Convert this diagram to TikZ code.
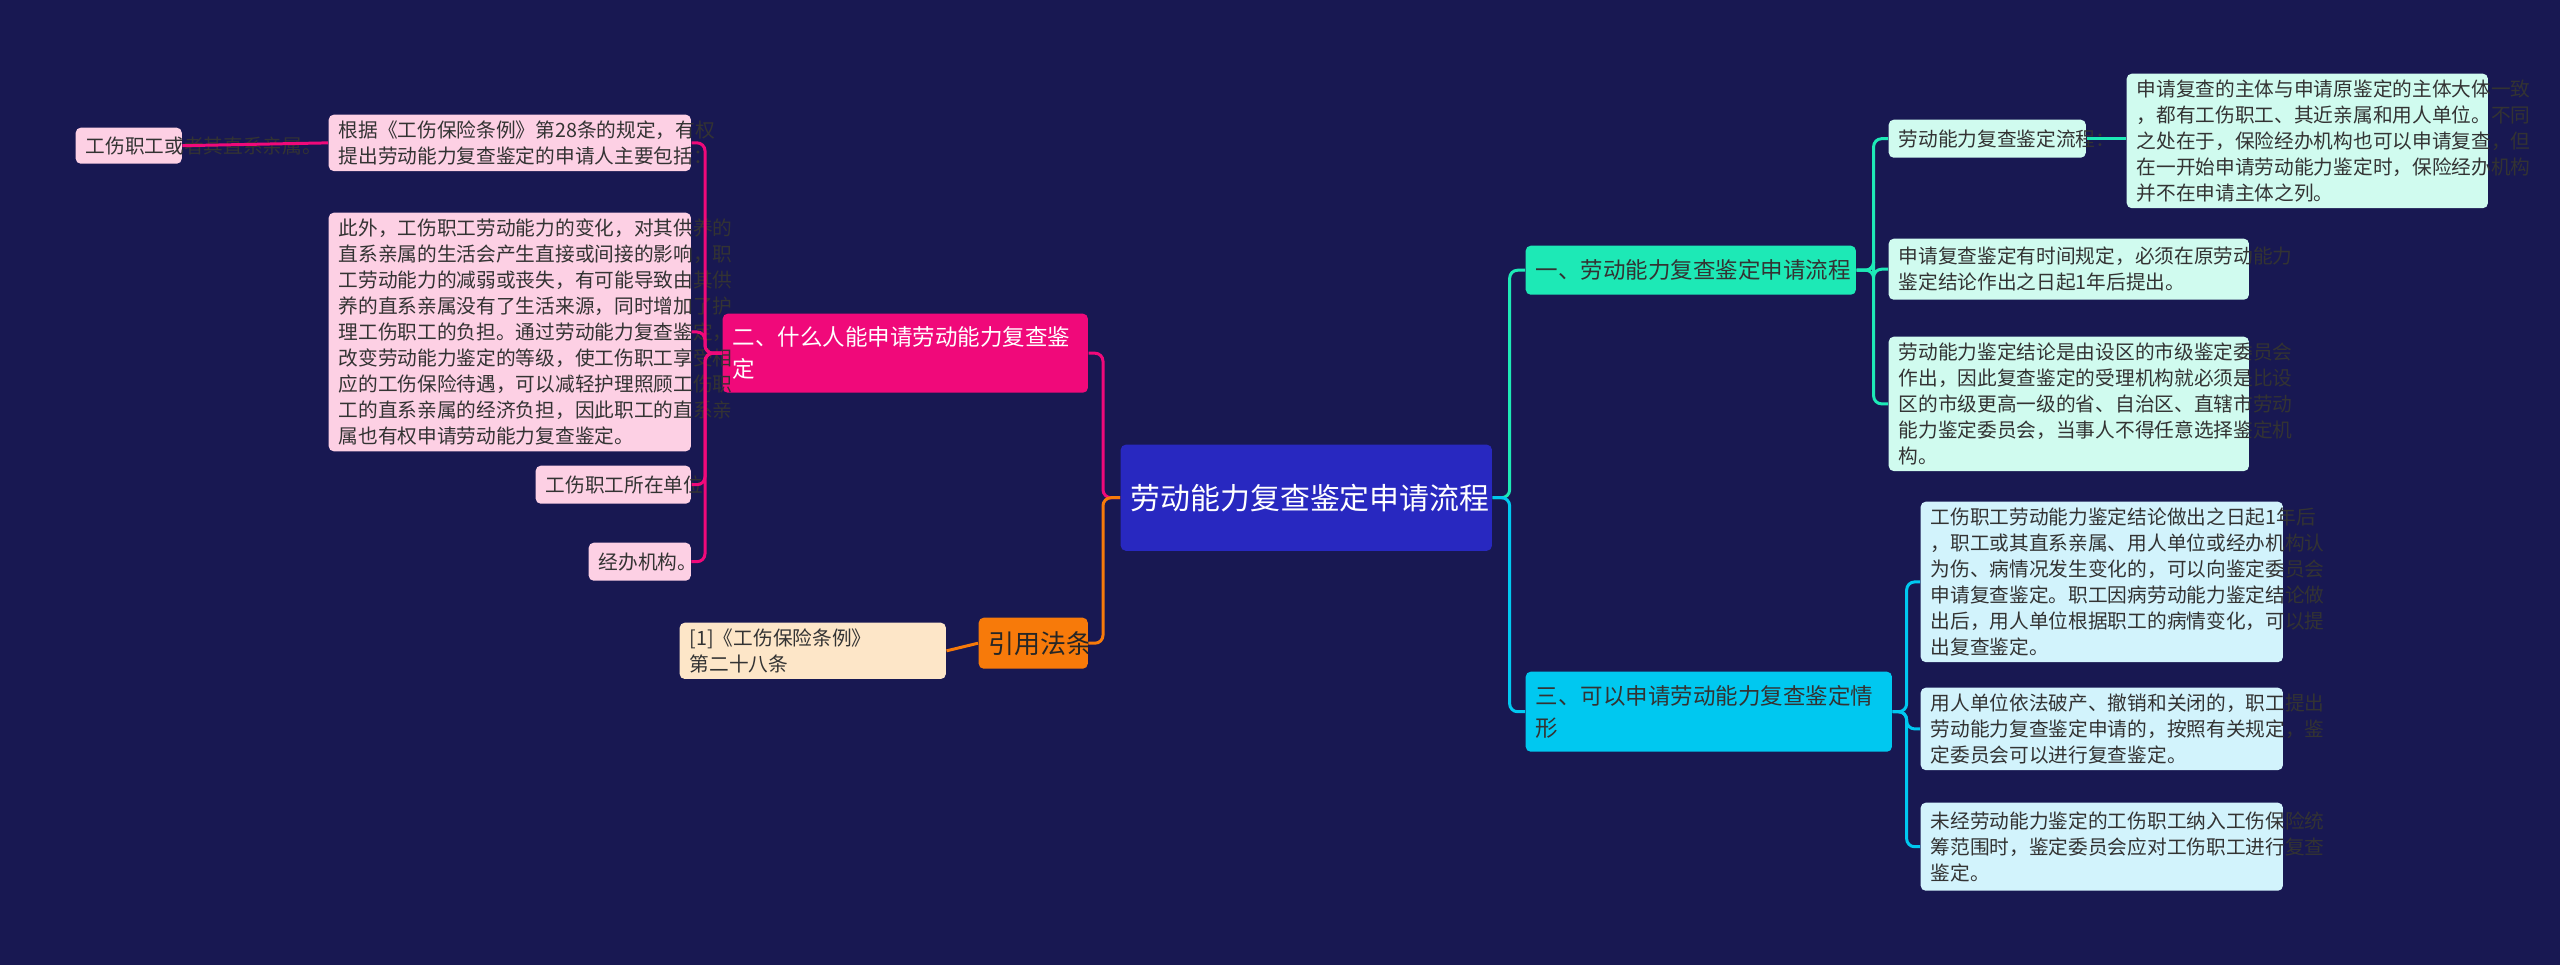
\documentclass[tikz,border=0pt]{standalone}
\usepackage{fontspec}
\setmainfont{Noto Sans CJK SC}
\begin{document}
\begin{tikzpicture}[x=0.01cm,y=-0.01cm,
 box/.style={anchor=north west,rounded corners=0.05cm,inner xsep=0.1cm,inner ysep=0.06cm,align=left,text=black!80},
 leaf/.style={box,font=\fontsize{5.6pt}{7.4pt}\selectfont},
 la/.style={leaf,fill=mintc},
 lb/.style={leaf,fill=cyanl},
 lp/.style={leaf,fill=pinkl},
 lo/.style={leaf,fill=orangel},
 br/.style={box,font=\fontsize{6.4pt}{9pt}\selectfont},
 con/.style={line width=0.85pt,rounded corners=0.08cm}]
\definecolor{bg}{HTML}{181852}
\definecolor{mintc}{HTML}{D0FBEF}
\definecolor{cyanl}{HTML}{D2F3FC}
\definecolor{pinkl}{HTML}{FDD0E4}
\definecolor{orangel}{HTML}{FDE6C8}
\definecolor{teal1}{HTML}{1DE9B6}
\definecolor{cyan1}{HTML}{00C8F0}
\definecolor{mag1}{HTML}{F0097A}
\definecolor{or1}{HTML}{F77A0A}
\definecolor{ctr}{HTML}{2828C0}
\fill[bg] (0,0) rectangle (2560,965);
\useasboundingbox (0,0) rectangle (2560,965);
% center
\node[box,fill=ctr,text=white,align=center,text width=3.51cm,minimum height=1.06cm,font=\fontsize{8.5pt}{11pt}\selectfont] (c) at (1120,444) {劳动能力复查鉴定申请流程};
% branch 1
\node[br,fill=teal1,text width=3.1cm,minimum height=0.49cm] (b1) at (1525,245) {一、劳动能力复查鉴定申请流程};
\node[la,text width=1.77cm,minimum height=0.38cm] (l1a) at (1888,119) {劳动能力复查鉴定流程：};
\node[la,text width=3.41cm,minimum height=1.28cm] (l1a1) at (2126,73) {申请复查的主体与申请原鉴定的主体大体一致\\，都有工伤职工、其近亲属和用人单位。不同\\之处在于，保险经办机构也可以申请复查，但\\在一开始申请劳动能力鉴定时，保险经办机构\\并不在申请主体之列。};
\node[la,text width=3.4cm,minimum height=0.61cm] (l1b) at (1888,238) {申请复查鉴定有时间规定，必须在原劳动能力\\鉴定结论作出之日起1年后提出。};
\node[la,text width=3.4cm,minimum height=1.26cm] (l1c) at (1888,336) {劳动能力鉴定结论是由设区的市级鉴定委员会\\作出，因此复查鉴定的受理机构就必须是比设\\区的市级更高一级的省、自治区、直辖市劳动\\能力鉴定委员会，当事人不得任意选择鉴定机\\构。};
% branch 3
\node[br,fill=cyan1,text width=3.46cm,minimum height=0.8cm] (b3) at (1525,671) {三、可以申请劳动能力复查鉴定情\\形};
\node[lb,text width=3.42cm,minimum height=1.49cm] (l3a) at (1920,501) {工伤职工劳动能力鉴定结论做出之日起1年后\\，职工或其直系亲属、用人单位或经办机构认\\为伤、病情况发生变化的，可以向鉴定委员会\\申请复查鉴定。职工因病劳动能力鉴定结论做\\出后，用人单位根据职工的病情变化，可以提\\出复查鉴定。};
\node[lb,text width=3.42cm,minimum height=0.82cm] (l3b) at (1920,687) {用人单位依法破产、撤销和关闭的，职工提出\\劳动能力复查鉴定申请的，按照有关规定，鉴\\定委员会可以进行复查鉴定。};
\node[lb,text width=3.42cm,minimum height=0.88cm] (l3c) at (1920,802) {未经劳动能力鉴定的工伤职工纳入工伤保险统\\筹范围时，鉴定委员会应对工伤职工进行复查\\鉴定。};
% branch 2
\node[br,fill=mag1,text=white,text width=3.45cm,minimum height=0.79cm] (b2) at (722,313) {二、什么人能申请劳动能力复查鉴\\定};
\node[lp,text width=3.42cm,minimum height=0.56cm] (l2a) at (328,114) {根据《工伤保险条例》第28条的规定，有权\\提出劳动能力复查鉴定的申请人主要包括：};
\node[lp,text width=0.86cm,minimum height=0.36cm] (l2a0) at (75,127) {工伤职工或者其直系亲属。};
\node[lp,text width=3.42cm,minimum height=2.16cm] (l2b) at (328,212) {此外，工伤职工劳动能力的变化，对其供养的\\直系亲属的生活会产生直接或间接的影响，职\\工劳动能力的减弱或丧失，有可能导致由其供\\养的直系亲属没有了生活来源，同时增加了护\\理工伤职工的负担。通过劳动能力复查鉴定，\\改变劳动能力鉴定的等级，使工伤职工享受相\\应的工伤保险待遇，可以减轻护理照顾工伤职\\工的直系亲属的经济负担，因此职工的直系亲\\属也有权申请劳动能力复查鉴定。};
\node[lp,text width=1.35cm,minimum height=0.38cm] (l2c) at (535,465) {工伤职工所在单位};
\node[lp,text width=0.82cm,minimum height=0.38cm] (l2d) at (588,542) {经办机构。};
% law
\node[br,fill=or1,text=black!85,text width=0.89cm,minimum height=0.51cm,font=\fontsize{7.4pt}{9pt}\selectfont] (b4) at (978,617) {引用法条};
\node[lo,text width=2.46cm,minimum height=0.41cm] (l4a) at (679,622) {[1]《工伤保险条例》 第二十八条};
% connectors
\draw[con,teal1] (c.east) -- ++(17,0) |- (b1.west);
\draw[con,cyan1] (c.east) -- ++(17,0) |- (b3.west);
\foreach \n in {l1a,l1b,l1c} \draw[con,teal1] (b1.east) -- ++(17,0) |- (\n.west);
\draw[con,teal1] (l1a.east) -- (l1a.east -| l1a1.west);
\foreach \n in {l3a,l3b,l3c} \draw[con,cyan1] (b3.east) -- ++(14,0) |- (\n.west);
\draw[con,mag1] (c.west) -- ++(-17,0) |- (b2.east);
\draw[con,or1] (c.west) -- ++(-17,0) |- (b4.east);
\foreach \n in {l2a,l2b,l2c,l2d} \draw[con,mag1] (b2.west) -- ++(-17,0) |- (\n.east);
\draw[con,mag1] (l2a.west) -- (l2a0.east);
\draw[con,or1] (b4.west) -- (l4a.east);
\end{tikzpicture}
\end{document}
